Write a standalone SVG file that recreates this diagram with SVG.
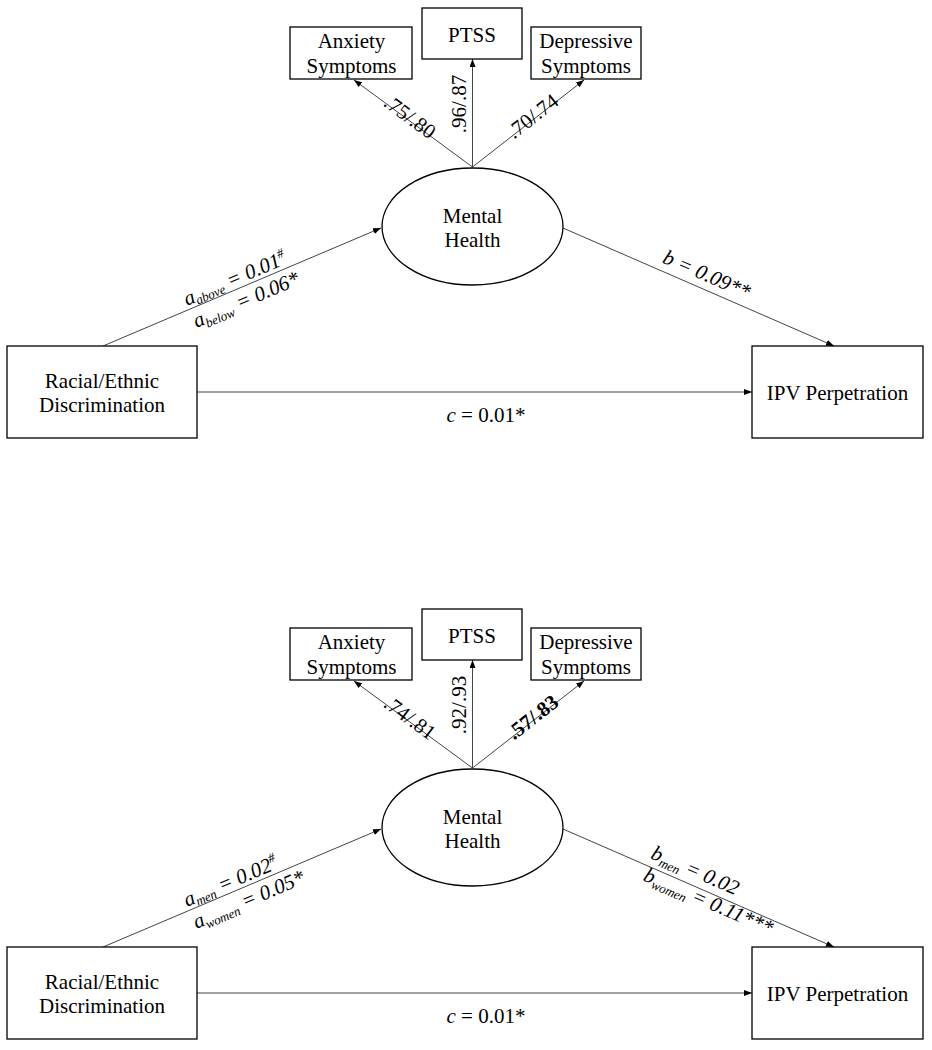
<svg xmlns="http://www.w3.org/2000/svg" width="932" height="1050" viewBox="0 0 932 1050">
<style>
  .box { fill: #fff; stroke: #000; stroke-width: 1.3; }
  .conn { stroke: #444; stroke-width: 1; fill: none; }
  .t { font-family: "Liberation Serif", "Times New Roman", serif; font-size: 21px; fill: #000; }
  .nt { text-anchor: middle; }
  .lab { font-family: "Liberation Serif", "Times New Roman", serif; font-size: 21px; font-style: italic; fill: #000; }
  .sub { font-size: 13px; }
  .ld { font-family: "Liberation Serif", "Times New Roman", serif; font-size: 21px; fill: #000; text-anchor: middle; }
</style>
<defs>
  <marker id="arr" markerUnits="userSpaceOnUse" markerWidth="8" markerHeight="6" refX="8" refY="3" orient="auto">
    <path d="M0,0 L8,3 L0,6 z" fill="#000"/>
  </marker>
</defs>
<rect width="932" height="1050" fill="#fff"/>

<!-- ===== Top model ===== -->
<g id="connectors-top">
  <line class="conn" x1="103" y1="346" x2="381" y2="228" marker-end="url(#arr)"/>
  <line class="conn" x1="563" y1="228" x2="834" y2="346" marker-end="url(#arr)"/>
  <line class="conn" x1="197" y1="392" x2="752" y2="392" marker-end="url(#arr)"/>
  <line class="conn" x1="472.5" y1="167" x2="354" y2="80" marker-end="url(#arr)"/>
  <line class="conn" x1="472.5" y1="167" x2="472.5" y2="59" marker-end="url(#arr)"/>
  <line class="conn" x1="472.5" y1="167" x2="584" y2="80" marker-end="url(#arr)"/>
  <g transform="translate(103,346) rotate(-23)">
    <text class="lab" x="93" y="-4">a<tspan class="sub" dy="3">above</tspan><tspan dy="-3"> = 0.01</tspan><tspan class="sub" dy="-8">#</tspan></text>
    <text class="lab" x="93" y="20">a<tspan class="sub" dy="4">below</tspan><tspan dy="-4"> = 0.06*</tspan></text>
  </g>
  <g transform="translate(563,228) rotate(23.53)">
    <text class="lab" x="104" y="-8">b = 0.09**</text>
  </g>
  <text class="t" x="486" y="422" text-anchor="middle"><tspan font-style="italic">c</tspan> = 0.01*</text>
  <text class="ld" transform="translate(408.2,119.2) rotate(36.6)" y="4">.75/.80</text>
  <text class="ld" transform="translate(466,104) rotate(-90)">.96/.87</text>
  <text class="ld" transform="translate(534.6,118.5) rotate(-38)" y="4">.70/.74</text>
</g>
<g id="anx-top">
  <rect class="box" x="290" y="27" width="122" height="52"/>
  <text class="t nt" x="351.5" y="48">Anxiety</text>
  <text class="t nt" x="351.5" y="73">Symptoms</text>
</g>
<g id="ptss-top">
  <rect class="box" x="422" y="8" width="100" height="51"/>
  <text class="t nt" x="472" y="42">PTSS</text>
</g>
<g id="dep-top">
  <rect class="box" x="531" y="27" width="110" height="52"/>
  <text class="t nt" x="586" y="48">Depressive</text>
  <text class="t nt" x="586" y="73">Symptoms</text>
</g>
<g id="mh-top">
  <ellipse class="box" cx="472.5" cy="226.5" rx="90.5" ry="58.5"/>
  <text class="t nt" x="472.5" y="223">Mental</text>
  <text class="t nt" x="472.5" y="247">Health</text>
</g>
<g id="red-top">
  <rect class="box" x="7" y="346" width="190" height="92"/>
  <text class="t nt" x="102" y="388">Racial/Ethnic</text>
  <text class="t nt" x="102" y="412">Discrimination</text>
</g>
<g id="ipv-top">
  <rect class="box" x="752" y="346" width="171" height="92"/>
  <text class="t nt" x="837.5" y="400">IPV Perpetration</text>
</g>

<!-- ===== Bottom model ===== -->
<g id="connectors-bottom">
  <line class="conn" x1="103" y1="947" x2="381" y2="829" marker-end="url(#arr)"/>
  <line class="conn" x1="563" y1="829" x2="834" y2="947" marker-end="url(#arr)"/>
  <line class="conn" x1="197" y1="993" x2="752" y2="993" marker-end="url(#arr)"/>
  <line class="conn" x1="472.5" y1="768" x2="354" y2="681" marker-end="url(#arr)"/>
  <line class="conn" x1="472.5" y1="768" x2="472.5" y2="660" marker-end="url(#arr)"/>
  <line class="conn" x1="472.5" y1="768" x2="584" y2="681" marker-end="url(#arr)"/>
  <g transform="translate(103,947) rotate(-23)">
    <text class="lab" x="93" y="-4">a<tspan class="sub" dy="3">men</tspan><tspan dy="-3"> = 0.02</tspan><tspan class="sub" dy="-8">#</tspan></text>
    <text class="lab" x="93" y="20">a<tspan class="sub" dy="4">women</tspan><tspan dy="-4"> = 0.05*</tspan></text>
  </g>
  <g transform="translate(563,829) rotate(23.53)">
    <text class="lab" x="91" y="-8">b<tspan class="sub" dy="4">men</tspan><tspan dy="-4"> = 0.02</tspan></text>
    <text class="lab" x="93" y="15">b<tspan class="sub" dy="4">women</tspan><tspan dy="-4"> = 0.11***</tspan></text>
  </g>
  <text class="t" x="486" y="1023" text-anchor="middle"><tspan font-style="italic">c</tspan> = 0.01*</text>
  <text class="ld" transform="translate(408.2,720.2) rotate(36.6)" y="4">.74/.81</text>
  <text class="ld" transform="translate(466,705) rotate(-90)">.92/.93</text>
  <text class="ld" transform="translate(534.6,719.5) rotate(-38)" y="4" font-weight="bold">.57/.83</text>
</g>
<g id="anx-bottom">
  <rect class="box" x="290" y="628" width="122" height="52"/>
  <text class="t nt" x="351.5" y="649">Anxiety</text>
  <text class="t nt" x="351.5" y="674">Symptoms</text>
</g>
<g id="ptss-bottom">
  <rect class="box" x="422" y="609" width="100" height="51"/>
  <text class="t nt" x="472" y="643">PTSS</text>
</g>
<g id="dep-bottom">
  <rect class="box" x="531" y="628" width="110" height="52"/>
  <text class="t nt" x="586" y="649">Depressive</text>
  <text class="t nt" x="586" y="674">Symptoms</text>
</g>
<g id="mh-bottom">
  <ellipse class="box" cx="472.5" cy="827.5" rx="90.5" ry="58.5"/>
  <text class="t nt" x="472.5" y="824">Mental</text>
  <text class="t nt" x="472.5" y="848">Health</text>
</g>
<g id="red-bottom">
  <rect class="box" x="7" y="947" width="190" height="92"/>
  <text class="t nt" x="102" y="989">Racial/Ethnic</text>
  <text class="t nt" x="102" y="1013">Discrimination</text>
</g>
<g id="ipv-bottom">
  <rect class="box" x="752" y="947" width="171" height="92"/>
  <text class="t nt" x="837.5" y="1001">IPV Perpetration</text>
</g>
</svg>
